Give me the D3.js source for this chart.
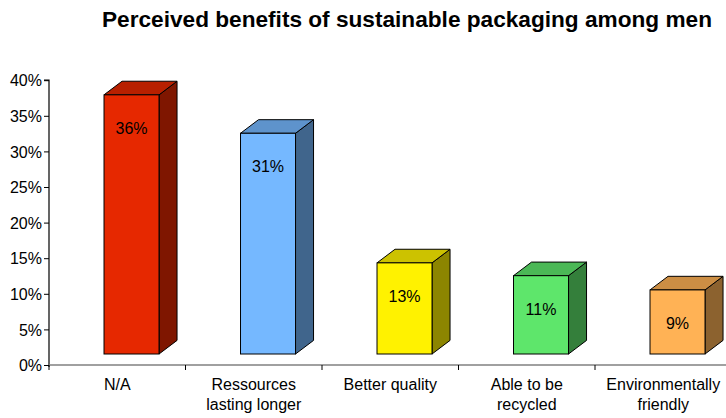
<!DOCTYPE html>
<html>
<head>
<meta charset="utf-8">
<script src="https://cdn.jsdelivr.net/npm/d3@7"></script>
<style>
  html, body { margin: 0; padding: 0; background: #fff; }
  svg { display: block; font-family: Arial, "Liberation Sans", sans-serif; }
</style>
</head>
<body>
<svg id="chart" width="726" height="418"></svg>
<script>
const title = "Perceived benefits of sustainable packaging among men";
const categories = ["N/A", "Ressources\nlasting longer", "Better quality", "Able to be\nrecycled", "Environmentally\nfriendly"];
const values = [36.4, 31, 12.8, 11, 9];
const colors = ["#e62800", "#75b8ff", "#fff200", "#5ee66b", "#ffb255"];
const yTicks = [0, 5, 10, 15, 20, 25, 30, 35, 40];

const svg = d3.select("#chart");
const W = 726, H = 418;
const left = 49, bandW = 136.5;
const y0 = 365, y40 = 80.2;

const x = d3.scaleBand().domain(categories).range([left, left + bandW * categories.length]).paddingInner(0).paddingOuter(0);
const y = d3.scaleLinear().domain([0, 40]).range([y0, y40]);

// title
svg.append("text").attr("x", 407).attr("y", 27).attr("text-anchor", "middle")
  .attr("font-size", 22.5).attr("font-weight", "bold").attr("fill", "#000")
  .attr("textLength", 610).attr("lengthAdjust", "spacingAndGlyphs").text(title);

// y axis
const yAxis = d3.axisLeft(y).tickValues(yTicks).tickSize(5).tickFormat(d => d + "%");
const gy = svg.append("g").attr("transform", `translate(${left},0)`).call(yAxis);
gy.select(".domain").attr("stroke", "#000").attr("stroke-width", 1.2).attr("d", `M-5,${y40}H0V${y0 + 2}`);
gy.selectAll(".tick line").attr("stroke", "#000");
gy.selectAll(".tick text").attr("font-size", 16).attr("fill", "#000").attr("x", -7).attr("dy", "0.35em")
  .attr("font-family", "Arial, 'Liberation Sans', sans-serif");

// x axis baseline
svg.append("line").attr("x1", left).attr("x2", W).attr("y1", y0).attr("y2", y0)
  .attr("stroke", "#808080").attr("stroke-width", 1.5);
svg.selectAll(".xtick").data(categories).enter().append("line")
  .attr("x1", d => x(d)).attr("x2", d => x(d)).attr("y1", y0).attr("y2", y0 + 5)
  .attr("stroke", "#000").attr("stroke-width", 1);

// bars
const lift = 11;
const fw = bandW * 0.403, fx = bandW * 0.403;
const dx = bandW * 0.132, dy = 13.6;
const shade = (c, k) => { const r = d3.rgb(c); return d3.rgb(r.r * k, r.g * k, r.b * k).formatHex(); };

const bars = svg.selectAll(".bar").data(values).enter().append("g").attr("class", "bar");
bars.each(function(v, i) {
  const g = d3.select(this);
  const xl = x(categories[i]) + fx, xr = xl + fw;
  const yb = y(0) - lift, yt = y(v) - lift;
  g.append("polygon").attr("points", [[xr, yb], [xr + dx, yb - dy], [xr + dx, yt - dy], [xr, yt]].join(" "))
    .attr("fill", shade(colors[i], 0.55)).attr("stroke", "#000").attr("stroke-width", 1).attr("stroke-linejoin", "round");
  g.append("polygon").attr("points", [[xl, yt], [xl + dx, yt - dy], [xr + dx, yt - dy], [xr, yt]].join(" "))
    .attr("fill", shade(colors[i], 0.8)).attr("stroke", "#000").attr("stroke-width", 1).attr("stroke-linejoin", "round");
  g.append("rect").attr("x", xl).attr("y", yt).attr("width", fw).attr("height", yb - yt)
    .attr("fill", colors[i]).attr("stroke", "#000").attr("stroke-width", 1);
  g.append("text").attr("x", (xl + xr) / 2).attr("y", yt + 39).attr("text-anchor", "middle")
    .attr("font-size", 16).attr("fill", "#000").text(Math.round(v) + "%");
});

// category labels
const cl = svg.selectAll(".cat").data(categories).enter().append("text")
  .attr("text-anchor", "middle").attr("font-size", 16).attr("fill", "#000")
  .attr("transform", d => `translate(${x(d) + bandW / 2},390)`);
cl.each(function(d) {
  const t = d3.select(this);
  d.split("\n").forEach((line, j) => t.append("tspan").attr("x", 0).attr("dy", j === 0 ? 0 : 20).text(line));
});
</script>
</body>
</html>
